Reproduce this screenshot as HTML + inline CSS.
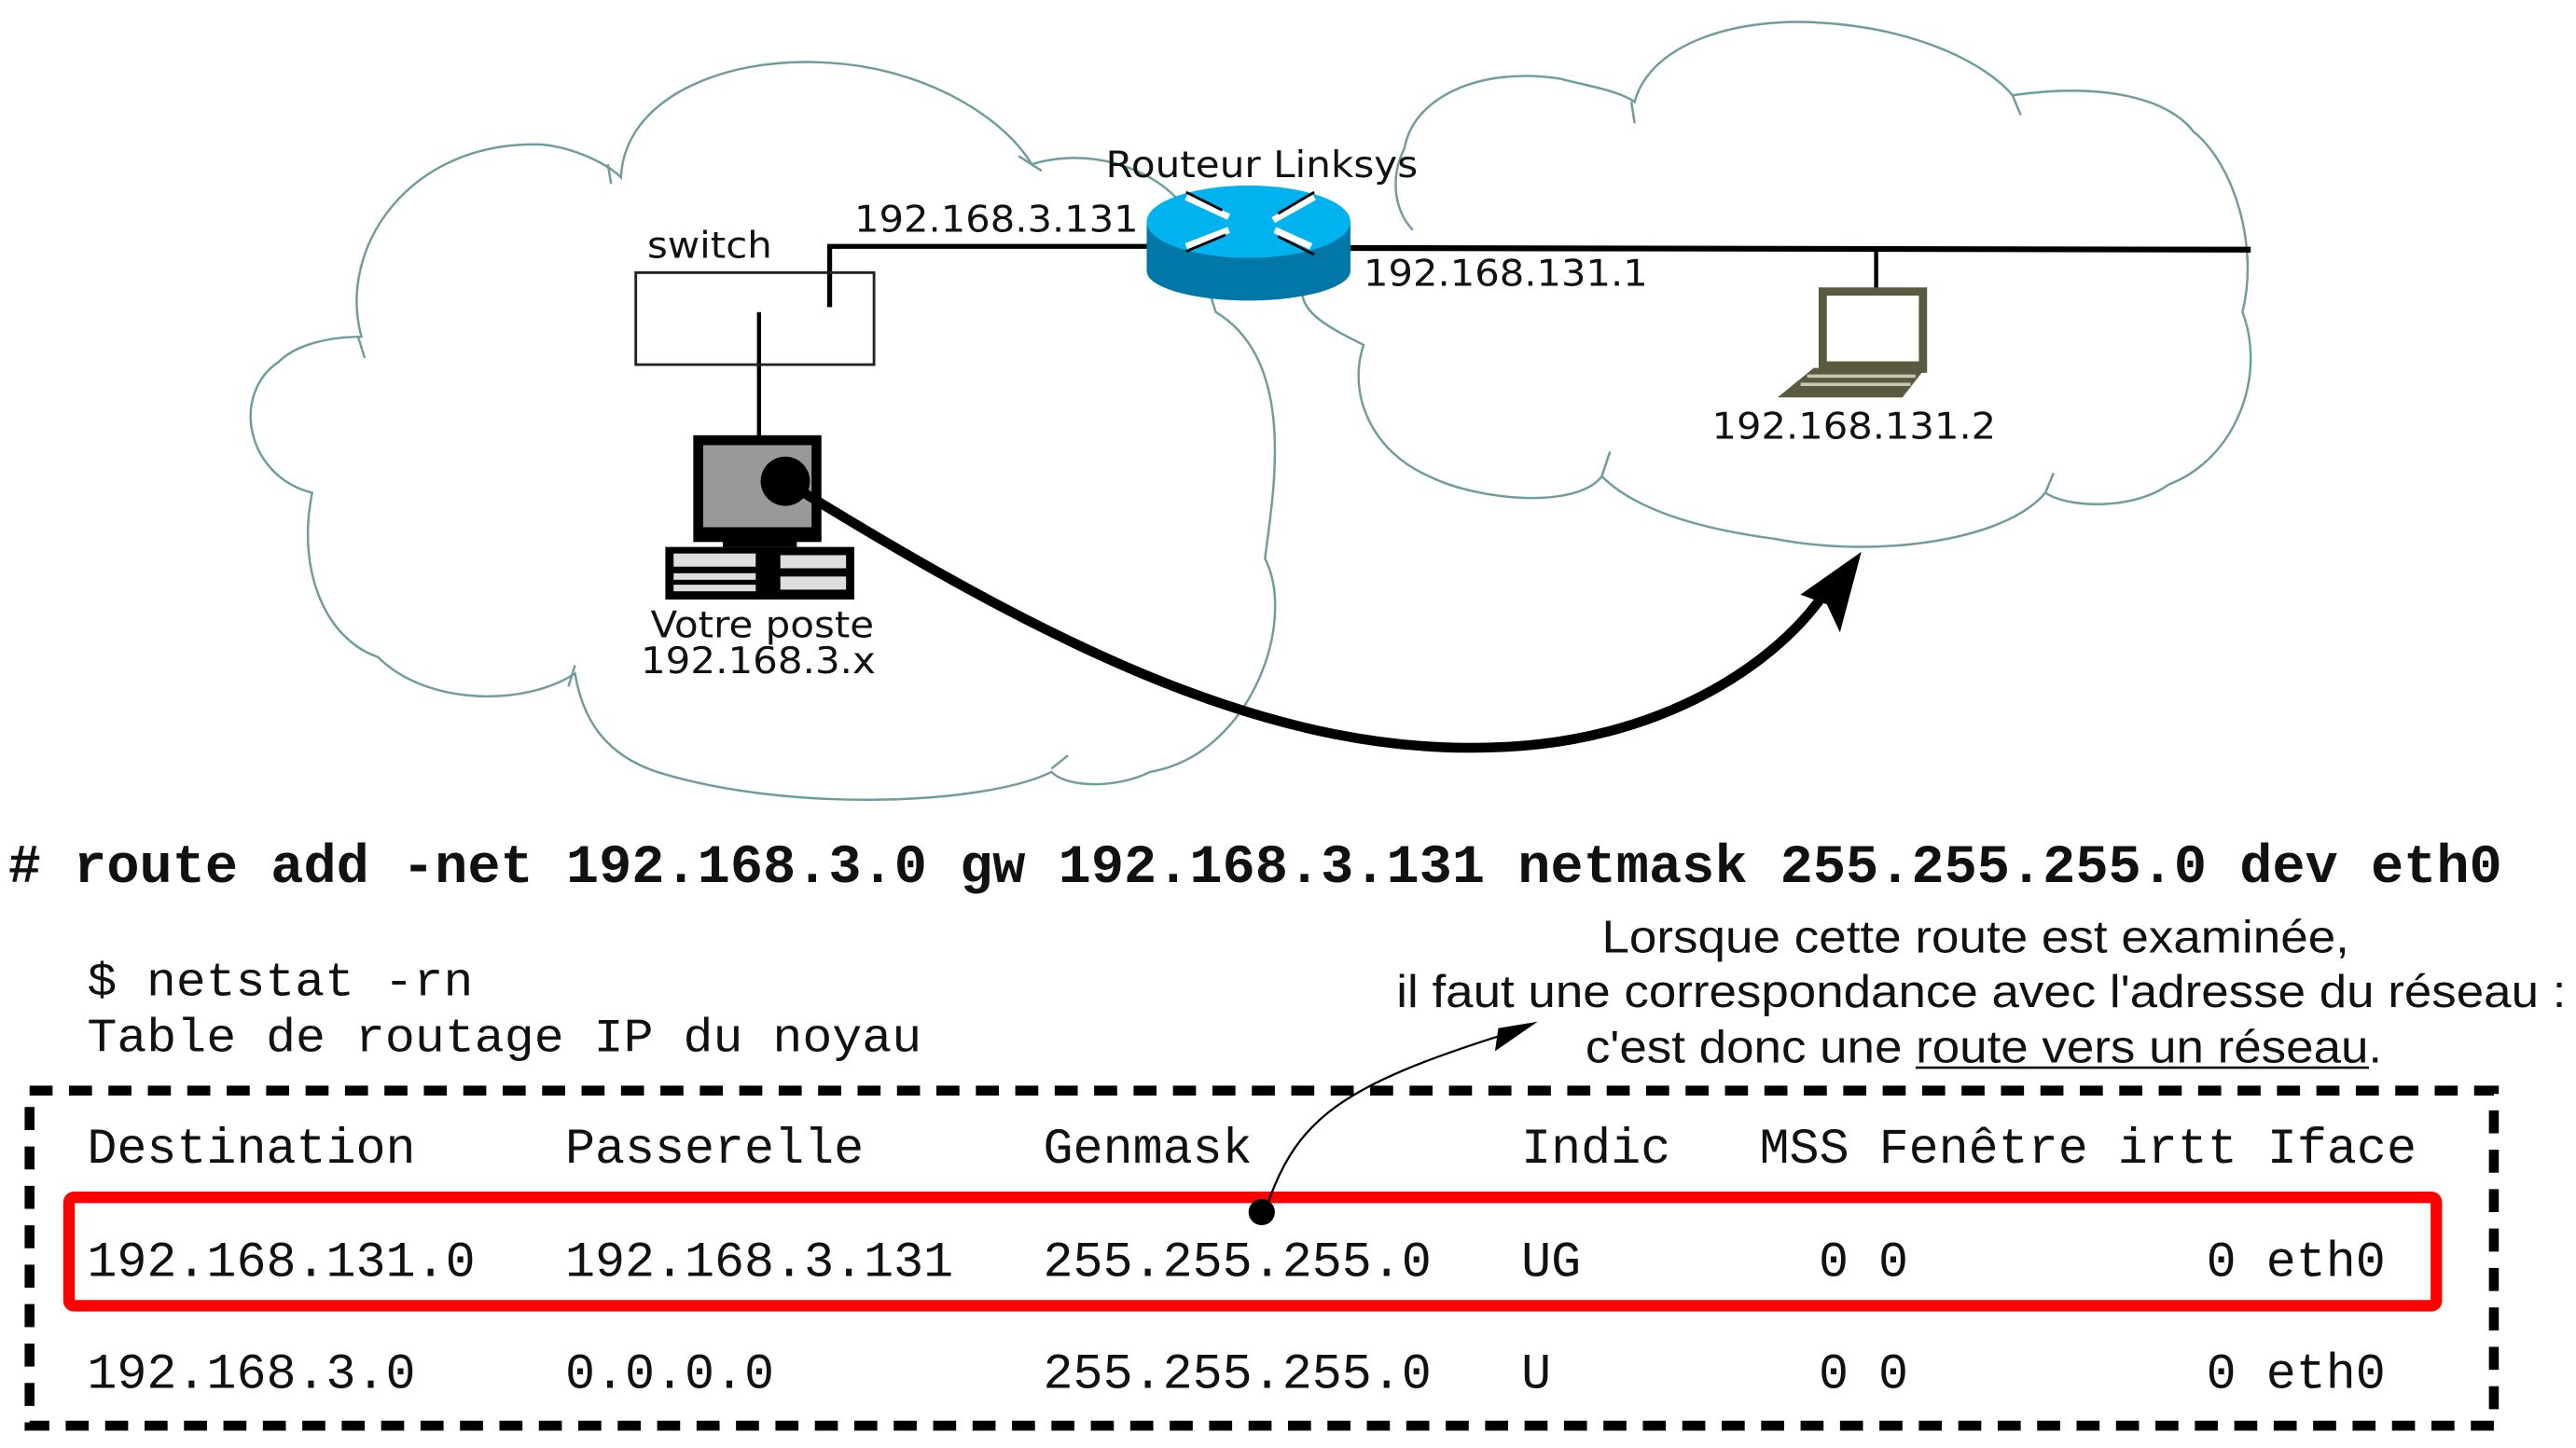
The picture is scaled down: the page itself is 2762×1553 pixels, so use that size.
<!DOCTYPE html>
<html><head><meta charset="utf-8"><style>
html,body{margin:0;padding:0;background:#fff;}
svg{display:block;}
.m{font-family:"Liberation Mono","DejaVu Sans Mono",monospace;fill:#111;}
.s{font-family:"DejaVu Sans","Liberation Sans",sans-serif;fill:#111;}
.a{font-family:"Liberation Sans",sans-serif;fill:#111;}
</style></head><body>
<svg width="2762" height="1553" viewBox="0 0 1568 881.6" preserveAspectRatio="none" xmlns="http://www.w3.org/2000/svg">
<!-- clouds -->
<g fill="none" stroke="#6f9c9c" stroke-width="1.4">
<path d="M220,205 C205,150 250,85 330,88 C350,90 370,100 378,108 C380,60 440,35 500,38 C560,40 610,70 628,100 C660,90 700,100 720,125 L740,190 C790,220 775,300 770,340 C790,380 760,460 700,470 C680,480 650,480 640,470 C600,490 480,495 400,470 C370,460 355,440 350,410 C320,430 260,430 230,400 C200,390 180,350 190,300 C150,290 140,240 170,220 C180,210 200,205 220,205 Z"/>
<path d="M370,100 L372,112 M620,95 L634,104 M218,205 L222,218 M350,405 L346,418 M640,468 L650,460"/>
<path d="M855,90 C860,60 900,40 950,48 C965,52 985,55 995,62 C1005,25 1060,10 1110,14 C1170,18 1210,40 1225,58 C1280,50 1320,60 1335,80 C1360,100 1375,150 1365,190 C1380,230 1360,280 1320,295 C1300,310 1260,310 1245,300 C1220,330 1140,340 1080,328 C1020,320 990,305 975,290 C960,310 900,305 870,290 C835,275 820,240 830,210 C810,200 790,190 793,175"/>
<path d="M855,90 C845,110 850,130 860,140 M993,62 L995,75 M1225,58 L1230,70 M975,290 L980,275 M1245,300 L1250,288"/>
</g>
<!-- wires -->
<g stroke="#000" fill="none">
<path d="M505,187 L505,150 L700,150" stroke-width="3"/>
<path d="M822,151 L1370,152" stroke-width="3.5"/>
<path d="M1142,152 L1142,176" stroke-width="2.5"/>
<path d="M462,190 L462,266" stroke-width="2.5"/>
</g>
<rect x="387" y="166" width="145" height="56" fill="none" stroke="#222" stroke-width="1.6"/>
<!-- router -->
<path d="M698,135 L698,165 A62,18 0 0 0 822,165 L822,135 Z" fill="#0077a6"/>
<ellipse cx="760" cy="135" rx="62" ry="22" fill="#00b3ef"/>
<g stroke="#fff" stroke-width="4" fill="none">
<path d="M722,120 L748,132 M800,120 L775,134 M722,150 L748,140 M798,150 L776,140"/>
</g>
<g stroke="#000" stroke-width="1.6" fill="none">
<path d="M722,117 L744,128 M800,117 L778,130 M722,153 L746,143 M778,144 L800,155"/>
</g>
<!-- laptop -->
<rect x="1107" y="175" width="66" height="52" fill="#5a5a40"/>
<rect x="1112" y="180" width="56" height="40" fill="#fff"/>
<path d="M1104,224 L1172,224 L1158,242 L1082,242 Z" fill="#5a5a40"/>
<path d="M1100,229 L1166,229 M1096,234 L1163,234" stroke="#c8c8b0" stroke-width="2"/>
<!-- PC -->
<rect x="422" y="265" width="78" height="65" fill="#000"/>
<rect x="428" y="271" width="66" height="50" fill="#999"/>
<rect x="440" y="328" width="45" height="5" fill="#000"/>
<rect x="405" y="333" width="115" height="32" fill="#000"/>
<rect x="410" y="337" width="50" height="8" fill="#ddd"/>
<rect x="410" y="349" width="50" height="4" fill="#ddd"/>
<rect x="410" y="356" width="50" height="4" fill="#ddd"/>
<rect x="475" y="338" width="40" height="8" fill="#ddd"/>
<rect x="475" y="351" width="40" height="8" fill="#ddd"/>
<!-- labels -->
<g class="s" font-size="22">
<text x="673" y="108" textLength="190" lengthAdjust="spacingAndGlyphs">Routeur Linksys</text>
<text x="520" y="141" textLength="173" lengthAdjust="spacingAndGlyphs">192.168.3.131</text>
<text x="394" y="157" textLength="76" lengthAdjust="spacingAndGlyphs">switch</text>
<text x="830" y="174" textLength="173" lengthAdjust="spacingAndGlyphs">192.168.131.1</text>
<text x="1042" y="267" textLength="173" lengthAdjust="spacingAndGlyphs">192.168.131.2</text>
<text x="396" y="388" textLength="136" lengthAdjust="spacingAndGlyphs">Votre poste</text>
<text x="390" y="410" textLength="143" lengthAdjust="spacingAndGlyphs">192.168.3.x</text>
</g>
<!-- big arrow -->
<circle cx="478" cy="293" r="15" fill="#000"/>
<path d="M478,293 C650,400 780,460 910,455 C1010,452 1080,405 1110,362" fill="none" stroke="#000" stroke-width="6"/>
<path d="M1133,336 L1120,385 L1112,368 L1096,362 Z" fill="#000"/>
<!-- command -->
<text class="m" x="5" y="537" font-size="33" font-weight="bold" textLength="1518" lengthAdjust="spacingAndGlyphs"># route add -net 192.168.3.0 gw 192.168.3.131 netmask 255.255.255.0 dev eth0</text>
<text class="m" x="53" y="606" font-size="29" textLength="235" lengthAdjust="spacingAndGlyphs">$ netstat -rn</text>
<text class="m" x="53" y="640" font-size="29" textLength="508" lengthAdjust="spacingAndGlyphs">Table de routage IP du noyau</text>
<text class="a" x="975" y="580" font-size="28" textLength="455" lengthAdjust="spacingAndGlyphs">Lorsque cette route est examinée,</text>
<text class="a" x="850" y="613" font-size="28" textLength="712" lengthAdjust="spacingAndGlyphs">il faut une correspondance avec l'adresse du réseau :</text>
<text class="a" x="965" y="647" font-size="28" textLength="485" lengthAdjust="spacingAndGlyphs">c'est donc une route vers un réseau.</text>
<line x1="1166" y1="650" x2="1442" y2="650" stroke="#111" stroke-width="1.5"/>
<!-- dashed box -->
<rect x="18" y="664" width="1500" height="204" fill="none" stroke="#000" stroke-width="6" stroke-dasharray="14,10"/>
<rect x="42" y="729" width="1441" height="66" rx="3" fill="none" stroke="#f00" stroke-width="7"/>
<g class="m" font-size="30.3">
<text x="53" y="708">Destination</text><text x="344" y="708">Passerelle</text><text x="635" y="708">Genmask</text><text x="926" y="708">Indic</text><text x="1071" y="708">MSS Fenêtre irtt Iface</text>
<text x="53" y="777">192.168.131.0</text><text x="344" y="777">192.168.3.131</text><text x="635" y="777">255.255.255.0</text><text x="926" y="777">UG</text><text x="1107" y="777">0 0</text><text x="1343" y="777">0 eth0</text>
<text x="53" y="845">192.168.3.0</text><text x="344" y="845">0.0.0.0</text><text x="635" y="845">255.255.255.0</text><text x="926" y="845">U</text><text x="1107" y="845">0 0</text><text x="1343" y="845">0 eth0</text>
</g>
<!-- small arrow -->
<circle cx="768" cy="738" r="8" fill="#000"/>
<path d="M772,732 C790,680 820,660 915,630" fill="none" stroke="#000" stroke-width="1.3"/>
<path d="M936,622 L910,640 L912,626 Z" fill="#000"/>
</svg>
</body></html>
